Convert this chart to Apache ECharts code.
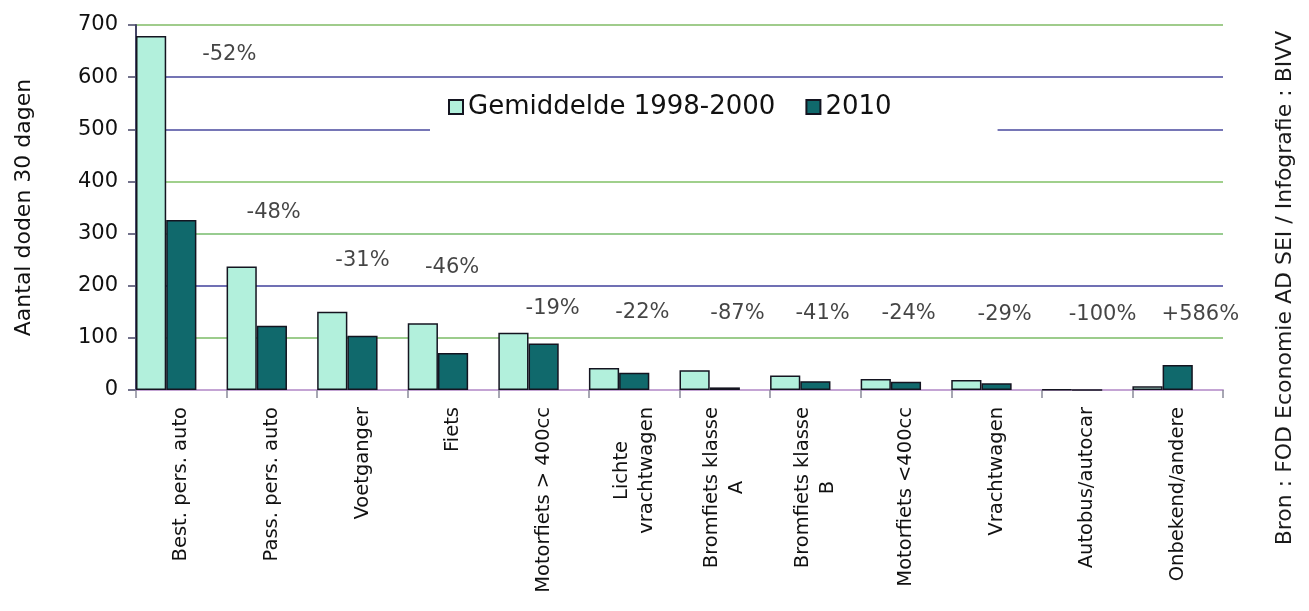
<!DOCTYPE html>
<html>
<head>
<meta charset="utf-8">
<script src="https://cdn.jsdelivr.net/npm/echarts@6/dist/echarts.min.js"></script>
<style>html,body{margin:0;padding:0;background:#fff;}#c{width:1309px;height:611px;}</style>
</head>
<body>
<div id="c"></div>
<script>
// Data
var categories = ['Best. pers. auto','Pass. pers. auto','Voetganger','Fiets','Motorfiets > 400cc','Lichte\nvrachtwagen','Bromfiets klasse\nA','Bromfiets klasse\nB','Motorfiets <400cc','Vrachtwagen','Autobus/autocar','Onbekend/andere'];
var avg19982000 = [679, 237, 150, 128, 110, 42, 38, 28, 21, 19, 1, 7];
var deaths2010 = [326, 123, 104, 71, 89, 33, 5, 17, 16, 13, 0, 48];
var changeLabels = ['-52%','-48%','-31%','-46%','-19%','-22%','-87%','-41%','-24%','-29%','-100%','+586%'];
var changeLabelX = [1.03, 1.52, 2.50, 3.49, 4.60, 5.59, 6.64, 7.58, 8.53, 9.59, 10.67, 11.75];
var changeLabelY = [643, 340, 248, 235, 157, 148, 146, 146, 146, 144, 144, 144];
var yTicks = [0, 100, 200, 300, 400, 500, 600, 700];

var FONT = 'DejaVu Sans';
var chart = echarts.init(document.getElementById('c'));
var option = {
  backgroundColor: '#ffffff',
  animation: false,
  textStyle: { fontFamily: FONT },
  grid: { left: 136, right: 86, top: 25, bottom: 221 },
  legend: {
    data: ['Gemiddelde 1998-2000', '2010'],
    left: 430, top: 86,
    padding: [8, 106, 26, 18],
    backgroundColor: '#ffffff',
    icon: 'rect', itemWidth: 14, itemHeight: 14, itemGap: 30,
    textStyle: { fontFamily: FONT, fontSize: 26, color: '#111' }
  },
  xAxis: [{
    type: 'category',
    data: categories,
    boundaryGap: true,
    axisLine: { show: true, lineStyle: { color: '#c4a4d4', width: 2 } },
    axisTick: { show: true, length: 8, lineStyle: { color: '#8a8a9a', width: 1.5 } },
    axisLabel: {
      interval: 0, rotate: 90, margin: 17,
      fontFamily: FONT, fontSize: 19.5, color: '#111', lineHeight: 25,
      formatter: function (v) { return v.split('\n').map(function (s) { return '{c|' + s + '}'; }).join('\n'); },
      rich: { c: { align: 'center', fontFamily: FONT, fontSize: 19.5, color: '#111', lineHeight: 25 } }
    },
    splitLine: { show: false }
  }, {
    type: 'value', min: 0, max: 12, show: false
  }],
  yAxis: {
    type: 'value', min: 0, max: 700, interval: 100,
    name: 'Aantal doden 30 dagen',
    nameLocation: 'middle', nameRotate: 90, nameGap: 101,
    nameTextStyle: { fontFamily: FONT, fontSize: 22, color: '#111' },
    axisLine: { show: true, lineStyle: { color: '#444466', width: 2 } },
    axisTick: { show: true, length: 8, lineStyle: { color: '#444466', width: 1.5 } },
    axisLabel: {
      margin: 18, fontFamily: FONT, fontSize: 21, color: '#111',
      formatter: function (v) { return yTicks.indexOf(v) >= 0 ? String(v) : ''; }
    },
    splitLine: { show: true, lineStyle: { width: 2, color: ['#c4a4d4', '#9ccc8c', '#7070b4', '#98cc90', '#a0d08c', '#7676b6', '#7474b4', '#a0cc8c'] } }
  },
  series: [{
    name: 'Gemiddelde 1998-2000', type: 'bar', data: avg19982000,
    barGap: '0%', barCategoryGap: '0%',
    itemStyle: { color: '#b2f0dc', borderColor: '#141420', borderWidth: 1.5 }
  }, {
    name: '2010', type: 'bar', data: deaths2010,
    barGap: '0%', barCategoryGap: '0%',
    itemStyle: { color: '#10696c', borderColor: '#141420', borderWidth: 1.5 }
  }, {
    name: 'spacer', type: 'bar', data: categories.map(function () { return '-'; }),
    barGap: '0%', barCategoryGap: '0%', silent: true,
    itemStyle: { color: 'rgba(0,0,0,0)' }
  }, {
    name: 'verandering', type: 'scatter', xAxisIndex: 1, symbolSize: 0, silent: true,
    data: changeLabelX.map(function (x, i) { return [x, changeLabelY[i]]; }),
    label: {
      show: true, position: 'inside',
      fontFamily: FONT, fontSize: 21, color: '#151515',
      formatter: function (p) { return changeLabels[p.dataIndex]; }
    }
  }],
  graphic: [{
    type: 'text', x: 1285, y: 288, rotation: Math.PI / 2, silent: true,
    style: { text: 'Bron : FOD Economie AD SEI / Infografie : BIVV', fontFamily: FONT, fontSize: 22, fill: '#1a1a1a', align: 'center', verticalAlign: 'middle' }
  }]
};
chart.setOption(option);
</script>
</body>
</html>
